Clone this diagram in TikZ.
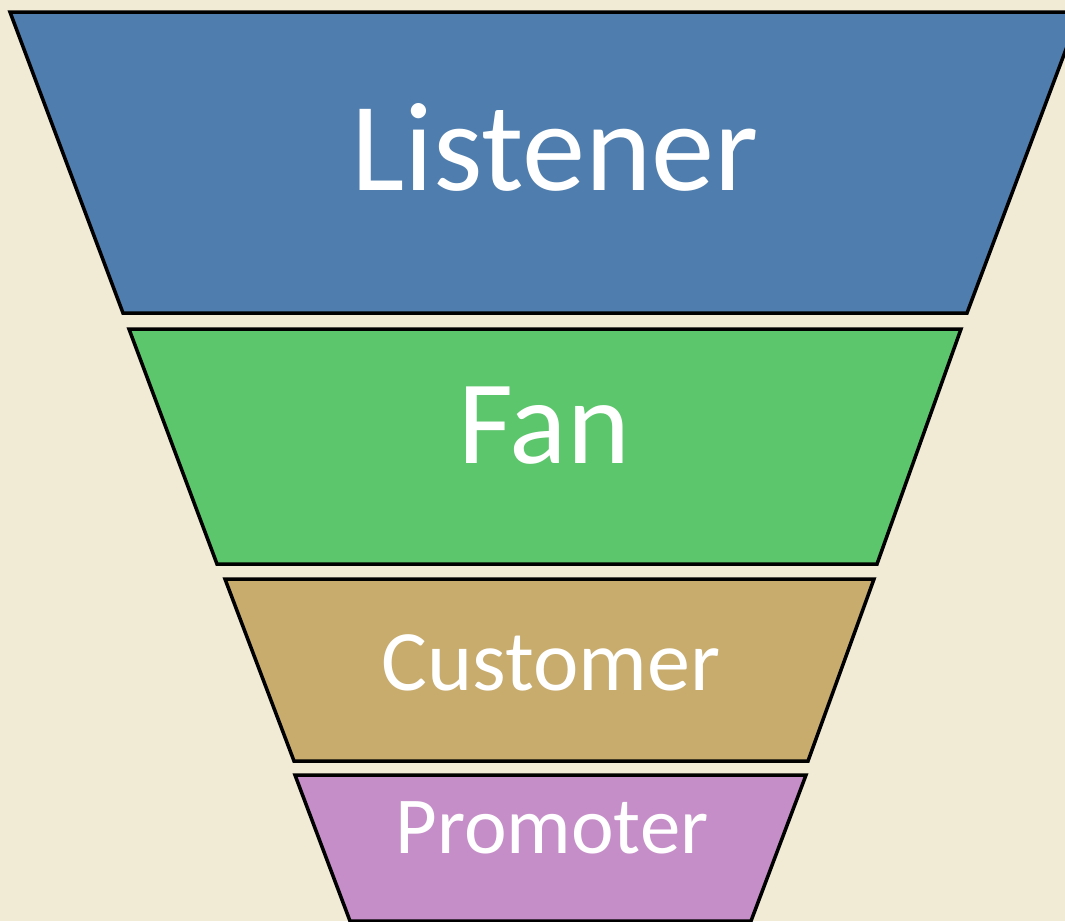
\documentclass[tikz,border=0pt]{standalone}
\usepackage{fontspec}
\setmainfont{Carlito}
\definecolor{Paper}{RGB}{241,234,213}
\definecolor{ListenerBlue}{RGB}{79,126,174}
\definecolor{FanGreen}{RGB}{92,198,108}
\definecolor{CustomerTan}{RGB}{200,172,110}
\definecolor{PromoterPurple}{RGB}{198,142,200}
\usetikzlibrary{positioning}

\begin{document}
\begin{tikzpicture}[x=0.02cm,y=-0.02cm,
        funnel/.style={draw=black,line width=2pt,line join=miter},
        stage/.style={text=white,anchor=base,inner sep=0pt}]
        % paper background
        \useasboundingbox (0,0) rectangle (1065,921);
        \fill[Paper] (0,0) rectangle (1065,921);
        \clip (0,0) rectangle (1065,921);
        % funnel layers
        \draw[funnel,fill=ListenerBlue] (10,12) -- (1080,12) -- (967,313) -- (123,313) -- cycle;
        \draw[funnel,fill=FanGreen] (129,329) -- (961,329) -- (877,564) -- (217,564) -- cycle;
        \draw[funnel,fill=CustomerTan] (225,579) -- (874,579) -- (808,761) -- (294,761) -- cycle;
        \draw[funnel,fill=PromoterPurple] (295,775) -- (806,775) -- (751,921) -- (350,921) -- cycle;
        % labels
        \node[stage,font=\fontsize{72}{86}\selectfont] (listener) at (555,190) {Listener};
        \node[stage,font=\fontsize{68}{82}\selectfont] (fan) at (544,463) {Fan};
        \node[stage,font=\fontsize{49}{59}\selectfont] (customer) at (551,690) {Customer};
        \node[stage,font=\fontsize{46}{55}\selectfont] (promoter) at (552,853) {Promoter};
    \end{tikzpicture}
\end{document}
